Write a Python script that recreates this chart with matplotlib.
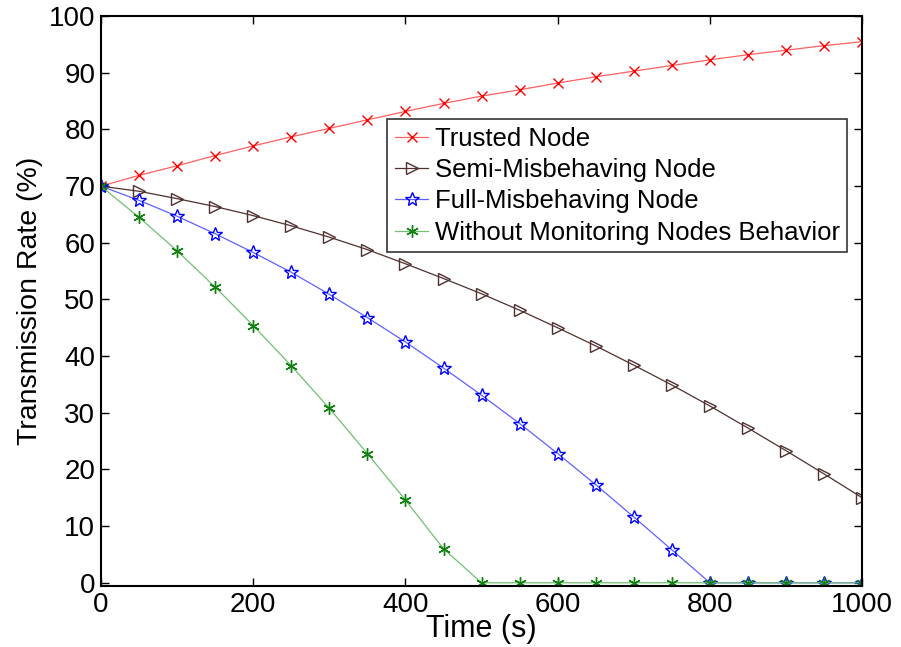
import matplotlib
matplotlib.use('Agg')
import matplotlib.pyplot as plt

plt.rcParams['font.family'] = ['Liberation Sans', 'DejaVu Sans']

time_s = list(range(0, 1001, 50))
trusted = [70, 71.9, 73.6, 75.4, 77.1, 78.7, 80.2, 81.7, 83.2, 84.6, 85.9,
           87.0, 88.2, 89.3, 90.3, 91.3, 92.3, 93.2, 94.0, 94.8, 95.5]
semi = [70, 69.1, 67.8, 66.4, 64.8, 63.0, 61.0, 58.8, 56.3, 53.7, 51.0,
        48.1, 45.0, 41.8, 38.4, 34.9, 31.2, 27.3, 23.3, 19.2, 15.0]
full = [70, 67.5, 64.7, 61.6, 58.3, 54.8, 50.9, 46.8, 42.5, 37.9, 33.1,
        28.1, 22.8, 17.3, 11.6, 5.8, 0, 0, 0, 0, 0]
without = [70, 64.5, 58.6, 52.2, 45.4, 38.3, 30.8, 22.8, 14.6, 6.0, 0,
           0, 0, 0, 0, 0, 0, 0, 0, 0, 0]

fig = plt.figure(figsize=(9.01, 6.47), dpi=100)
ax = fig.add_axes([0.112, 0.094, 0.845, 0.881])

ax.plot(time_s, trusted, color='#ff6060', lw=0.9, marker='x', ms=7,
        mec='#ff0000', mew=1, label='Trusted Node')
ax.plot(time_s, semi, color='#503030', lw=0.9, marker='>', ms=9,
        mec='#503030', mfc='none', mew=1, label='Semi-Misbehaving Node')
ax.plot(time_s, full, color='#6060ff', lw=0.9, marker='*', ms=10,
        mec='#0000ff', mfc='none', mew=1, label='Full-Misbehaving Node')
ax.plot(time_s, without, color='#70c070', lw=0.9, marker=(6, 2, 0), ms=9,
        mec='#108010', mew=1, label='Without Monitoring Nodes Behavior')

ax.set_xlim(0, 1000)
ax.set_ylim(-0.6, 100)
ax.set_xticks(range(0, 1001, 200))
ax.set_yticks(range(0, 101, 10))
ax.tick_params(direction='in', top=True, right=True, labelsize=20, length=6, width=1, pad=4)
for s in ax.spines.values():
    s.set_linewidth(1.5)

ax.set_xlabel('Time (s)', fontsize=22, labelpad=-3)
ax.set_ylabel('Transmission Rate (%)', fontsize=20.5, labelpad=4)

leg = ax.legend(loc='upper left', bbox_to_anchor=(0.376, 0.819), fontsize=18.5,
                frameon=True, fancybox=False, edgecolor='black',
                handlelength=1.3, handletextpad=0.25, borderpad=0.3,
                labelspacing=0.28, borderaxespad=0)
leg.get_frame().set_linewidth(1.2)

fig.savefig('out.png', dpi=100)
